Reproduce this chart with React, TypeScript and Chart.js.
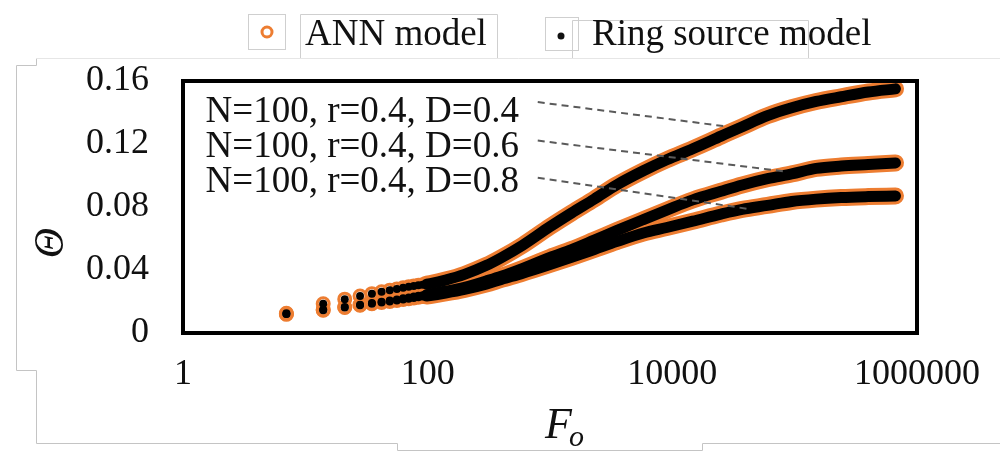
import React, { useEffect, useRef } from 'react';
import { Chart, registerables } from 'chart.js';

Chart.register(...registerables);

// ---------- data ----------
const foValues = [
  7, 14, 21, 28, 35, 42, 49, 56, 63, 70, 77, 84, 91, 98, 105, 140, 200, 300, 400, 600,
  1000, 1500, 2300, 3500, 5800, 9000, 14700, 25000, 37300, 60000, 94600, 150000, 240000, 400000, 667000,
];

// N=100, r=0.4, D=0.4
const thetaD04 = [
  0.0125, 0.0185, 0.0215, 0.0235, 0.025, 0.0262, 0.0272, 0.028, 0.0287, 0.0293, 0.0298, 0.0303, 0.0307, 0.031, 0.0314,
  0.0336, 0.0372, 0.0428, 0.0478, 0.0558, 0.0675, 0.0762, 0.085, 0.094, 0.103, 0.11, 0.117, 0.125, 0.131, 0.138, 0.143,
  0.147, 0.15, 0.153, 0.155,
];
// N=100, r=0.4, D=0.6
const thetaD06 = [
  0.012, 0.0147, 0.0165, 0.018, 0.019, 0.0198, 0.0206, 0.0213, 0.022, 0.0226, 0.0231, 0.0236, 0.024, 0.0244, 0.0248,
  0.0265, 0.029, 0.033, 0.036, 0.041, 0.048, 0.053, 0.059, 0.065, 0.072, 0.078, 0.0845, 0.09, 0.094, 0.098, 0.101,
  0.1045, 0.106, 0.107, 0.108,
];
// N=100, r=0.4, D=0.8
const thetaD08 = [
  0.012, 0.0145, 0.0162, 0.0176, 0.0186, 0.0194, 0.02, 0.0207, 0.0213, 0.0218, 0.0223, 0.0227, 0.0231, 0.0235, 0.0238,
  0.0254, 0.0277, 0.031, 0.034, 0.038, 0.0435, 0.048, 0.053, 0.058, 0.0635, 0.067, 0.071, 0.0755, 0.0785, 0.081, 0.0835,
  0.085, 0.086, 0.0866, 0.087,
];

const curveLabels = ['N=100, r=0.4, D=0.4', 'N=100, r=0.4, D=0.6', 'N=100, r=0.4, D=0.8'];
const curveValues = [thetaD04, thetaD06, thetaD08];

const seriesNames = ['ANN model', 'Ring source model'];

const xTickValues = [1, 100, 10000, 1000000];
const xTickLabels = ['1', '100', '10000', '1000000'];
const yTickValues = [0, 0.04, 0.08, 0.12, 0.16];
const yTickLabels = ['0', '0.04', '0.08', '0.12', '0.16'];

const xTitle = 'F';
const xTitleSub = 'o';
const yTitle = 'Θ';

// ---------- styling / placement ----------
const ORANGE = '#ED7D31';
const SERIF = '"Liberation Serif", "Times New Roman", serif';
const LINE_START_FO = 98;

// annotation anchors in data coordinates
const annotationPlacement = [
  { textX: 1.53, textY: 0.14, fromX: 794, fromY: 0.1466, toX: 27200, toY: 0.1312 },
  { textX: 1.53, textY: 0.1178, fromX: 794, fromY: 0.1222, toX: 86100, toY: 0.1024 },
  { textX: 1.53, textY: 0.0954, fromX: 794, fromY: 0.0986, toX: 42500, toY: 0.0787 },
];

const decorPlugin = {
  id: 'decor',
  beforeDraw(chart: any) {
    const ctx = chart.ctx;
    ctx.save();
    ctx.strokeStyle = '#c4c4c4';
    ctx.lineWidth = 1;
    ctx.beginPath();
    ctx.moveTo(36.5, 58.5);
    ctx.lineTo(36.5, 65.5);
    ctx.lineTo(16.5, 65.5);
    ctx.lineTo(16.5, 370.5);
    ctx.lineTo(36.5, 370.5);
    ctx.lineTo(36.5, 443.5);
    ctx.lineTo(397.5, 443.5);
    ctx.lineTo(397.5, 450.5);
    ctx.lineTo(702.5, 450.5);
    ctx.lineTo(702.5, 443.5);
    ctx.lineTo(1000, 443.5);
    ctx.stroke();
    ctx.strokeStyle = '#e6e6e6';
    ctx.beginPath();
    ctx.moveTo(36.5, 58.5);
    ctx.lineTo(1000, 58.5);
    ctx.stroke();
    // legend boxes
    ctx.strokeStyle = '#cfcfcf';
    ctx.strokeRect(248.5, 14.5, 37, 35);
    ctx.beginPath();
    ctx.moveTo(300.5, 58);
    ctx.lineTo(300.5, 14.5);
    ctx.lineTo(497.5, 14.5);
    ctx.lineTo(497.5, 58);
    ctx.stroke();
    ctx.strokeRect(545.5, 17.5, 33, 33);
    ctx.beginPath();
    ctx.moveTo(572.5, 58);
    ctx.lineTo(572.5, 20.5);
    ctx.lineTo(808.5, 20.5);
    ctx.lineTo(808.5, 58);
    ctx.stroke();
    ctx.restore();
  },
  afterDatasetsDraw(chart: any) {
    const { ctx, chartArea: a, scales } = chart;
    const xs = scales.x;
    const ys = scales.y;
    ctx.save();
    // plot border
    ctx.strokeStyle = '#000';
    ctx.lineWidth = 4;
    ctx.strokeRect(a.left, a.top, a.right - a.left, a.bottom - a.top);
    // annotations
    ctx.font = `37px ${SERIF}`;
    ctx.fillStyle = '#111';
    ctx.textAlign = 'left';
    ctx.textBaseline = 'middle';
    annotationPlacement.forEach((p, i) => {
      ctx.fillText(curveLabels[i], xs.getPixelForValue(p.textX), ys.getPixelForValue(p.textY));
      ctx.setLineDash([7, 5]);
      ctx.strokeStyle = '#5a5a5a';
      ctx.lineWidth = 2;
      ctx.beginPath();
      ctx.moveTo(xs.getPixelForValue(p.fromX), ys.getPixelForValue(p.fromY));
      ctx.lineTo(xs.getPixelForValue(p.toX), ys.getPixelForValue(p.toY));
      ctx.stroke();
      ctx.setLineDash([]);
    });
    ctx.restore();
  },
  afterDraw(chart: any) {
    const ctx = chart.ctx;
    ctx.save();
    ctx.fillStyle = '#111';
    // legend
    ctx.beginPath();
    ctx.strokeStyle = ORANGE;
    ctx.lineWidth = 3;
    ctx.arc(267, 32, 5, 0, Math.PI * 2);
    ctx.stroke();
    ctx.beginPath();
    ctx.arc(561, 36, 3.5, 0, Math.PI * 2);
    ctx.fill();
    ctx.font = `37px ${SERIF}`;
    ctx.textAlign = 'left';
    ctx.textBaseline = 'middle';
    ctx.fillText(seriesNames[0], 305, 35);
    ctx.fillText(seriesNames[1], 592, 35);
    // y title
    ctx.save();
    ctx.translate(52, 243);
    ctx.rotate(-Math.PI / 2);
    ctx.font = `italic 42px ${SERIF}`;
    ctx.textAlign = 'center';
    ctx.textBaseline = 'middle';
    ctx.fillText(yTitle, 0, 0);
    ctx.restore();
    // x title
    ctx.textBaseline = 'alphabetic';
    ctx.font = `italic 44px ${SERIF}`;
    ctx.fillText(xTitle, 545, 438);
    ctx.font = `italic 30px ${SERIF}`;
    ctx.fillText(xTitleSub, 569, 446);
    ctx.restore();
  },
};

export default function App() {
  const canvasRef = useRef<HTMLCanvasElement | null>(null);

  useEffect(() => {
    const canvas = canvasRef.current;
    if (!canvas) return;
    const datasets: any[] = [];
    curveValues.forEach((vals) => {
      datasets.push({
        label: seriesNames[0],
        data: foValues.map((x, i) => ({ x, y: vals[i] })),
        showLine: true,
        borderColor: ORANGE,
        borderWidth: 17,
        borderCapStyle: 'round',
        borderJoinStyle: 'round',
        cubicInterpolationMode: 'monotone',
        pointRadius: 6,
        pointBorderWidth: 3,
        pointBorderColor: ORANGE,
        pointBackgroundColor: 'rgba(0,0,0,0)',
        order: 2,
        segment: {
          borderColor: (c: any) => (c.p0.parsed.x < LINE_START_FO ? 'rgba(0,0,0,0)' : ORANGE),
        },
      });
    });
    curveValues.forEach((vals) => {
      datasets.push({
        label: seriesNames[1],
        data: foValues.map((x, i) => ({ x, y: vals[i] })),
        showLine: true,
        borderColor: '#000',
        borderWidth: 11,
        borderCapStyle: 'round',
        borderJoinStyle: 'round',
        cubicInterpolationMode: 'monotone',
        pointRadius: 4,
        pointBorderWidth: 0,
        pointBackgroundColor: '#000',
        order: 1,
        segment: {
          borderColor: (c: any) => (c.p0.parsed.x < LINE_START_FO ? 'rgba(0,0,0,0)' : '#000'),
        },
      });
    });

    const chart = new Chart(canvas, {
      type: 'scatter',
      data: { datasets },
      plugins: [decorPlugin],
      options: {
        responsive: false,
        animation: false,
        events: [],
        layout: { padding: { top: 81, right: 72, bottom: 0, left: 0 } },
        plugins: { legend: { display: false }, tooltip: { enabled: false }, title: { display: false } },
        scales: {
          x: {
            type: 'logarithmic',
            min: 1,
            max: 1000000,
            grid: { display: false, drawTicks: false },
            border: { display: false },
            afterBuildTicks: (s: any) => {
              s.ticks = xTickValues.map((v) => ({ value: v }));
            },
            afterFit: (s: any) => {
              s.height = 122;
            },
            ticks: {
              autoSkip: false,
              maxRotation: 0,
              padding: 20,
              color: '#111',
              font: { family: SERIF, size: 36 },
              callback: (_v: any, i: number) => xTickLabels[i],
            },
          },
          y: {
            min: 0,
            max: 0.16,
            grid: { display: false, drawTicks: false },
            border: { display: false },
            afterBuildTicks: (s: any) => {
              s.ticks = yTickValues.map((v) => ({ value: v }));
            },
            afterFit: (s: any) => {
              s.width = 183;
            },
            ticks: {
              padding: 34,
              color: '#111',
              font: { family: SERIF, size: 36 },
              callback: (_v: any, i: number) => yTickLabels[i],
            },
          },
        },
      } as any,
    });
    return () => chart.destroy();
  }, []);

  return (
    <div style={{ position: 'absolute', left: 0, top: 0, width: 1000, height: 455, background: '#fff' }}>
      <canvas ref={canvasRef} width={1000} height={455} />
    </div>
  );
}
